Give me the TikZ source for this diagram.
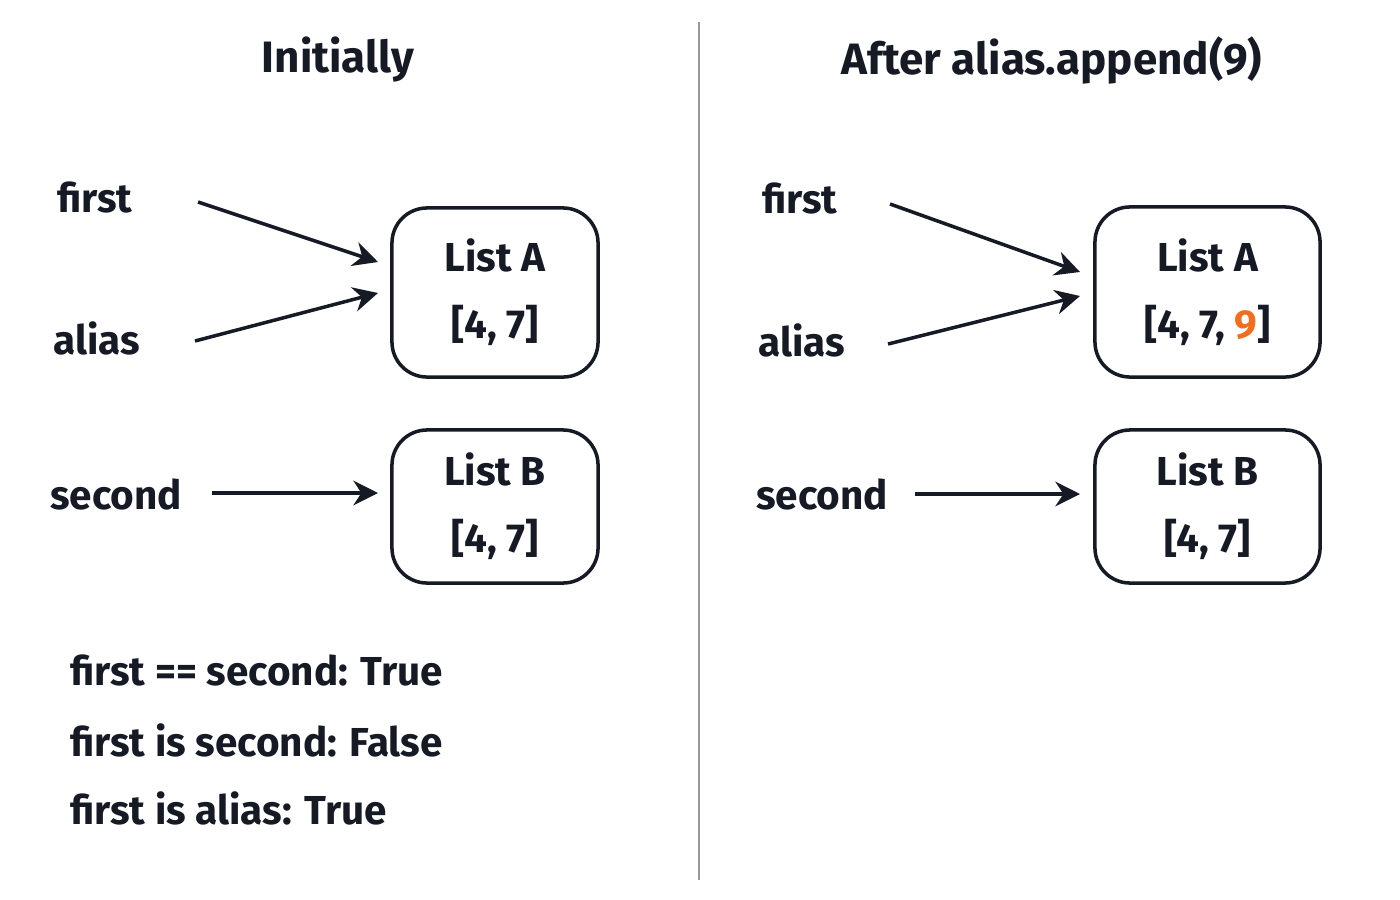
\documentclass[tikz,border=0pt]{standalone}
\usepackage{fontspec}
\setmainfont{Fira Sans}
\usetikzlibrary{arrows.meta, positioning, calc}
\definecolor{inkdark}{RGB}{22, 26, 36}
\definecolor{nineorange}{RGB}{240, 110, 30}

\begin{document}
\begin{tikzpicture}[x=0.01cm, y=-0.01cm]
    \tikzstyle{listbox} = [rectangle, rounded corners=10pt, draw=inkdark, line width=1pt, align=center, font=\fontsize{11.5}{19}\selectfont\bfseries, text=inkdark, inner sep=0pt]
    \tikzstyle{var} = [font=\fontsize{11.5}{14}\selectfont\bfseries, text=inkdark]
    \tikzstyle{title} = [font=\fontsize{12.5}{15}\selectfont\bfseries, text=inkdark]
    \tikzstyle{arrow} = [line width=1pt, -{Stealth[length=7pt, width=7pt]}, inkdark]

    \useasboundingbox (0,0) rectangle (1400,900);
    \draw[gray!80, line width=0.4pt] (699,22) -- (699,880);

    % left half
    \node[title] (titleL) at (338,60) {Initially};
    \node[var] (firstL) at (95,197) {first};
    \node[var] (aliasL) at (97,338) {alias};
    \node[var] (secondL) at (116,494) {second};
    \node[listbox, minimum width=2.06cm, minimum height=1.69cm] (listAL) at (495,292.5) {List A\\{}[4, 7]};
    \node[listbox, minimum width=2.06cm, minimum height=1.53cm] (listBL) at (495,506.5) {List B\\{}[4, 7]};
    \coordinate (inA1L) at (378,262);
    \coordinate (inA2L) at (378,293);
    \coordinate (inBL) at (378,493);
    \draw[arrow] (198,202) -- (inA1L);
    \draw[arrow] (195,341) -- (inA2L);
    \draw[arrow] (212,493) -- (inBL);
    \node[var, anchor=west] (eq) at (58,670) {first == second: True};
    \node[var, anchor=west] (isB) at (58,740) {first is second: False};
    \node[var, anchor=west] (isA) at (58,808) {first is alias: True};

    % right half
    \node[title] (titleR) at (1052,60) {After alias.append(9)};
    \node[var] (firstR) at (800,198) {first};
    \node[var] (aliasR) at (802,340) {alias};
    \node[var] (secondR) at (822,494) {second};
    \node[listbox, minimum width=2.25cm, minimum height=1.70cm] (listAR) at (1207.5,292) {List A\\{}[4, 7, \textcolor{nineorange}{9}]};
    \node[listbox, minimum width=2.25cm, minimum height=1.53cm] (listBR) at (1207.5,506.5) {List B\\{}[4, 7]};
    \coordinate (inA1R) at (1080,272);
    \coordinate (inA2R) at (1080,296);
    \coordinate (inBR) at (1080,494);
    \draw[arrow] (890,204) -- (inA1R);
    \draw[arrow] (888,344) -- (inA2R);
    \draw[arrow] (915,494) -- (inBR);
\end{tikzpicture}
\end{document}
